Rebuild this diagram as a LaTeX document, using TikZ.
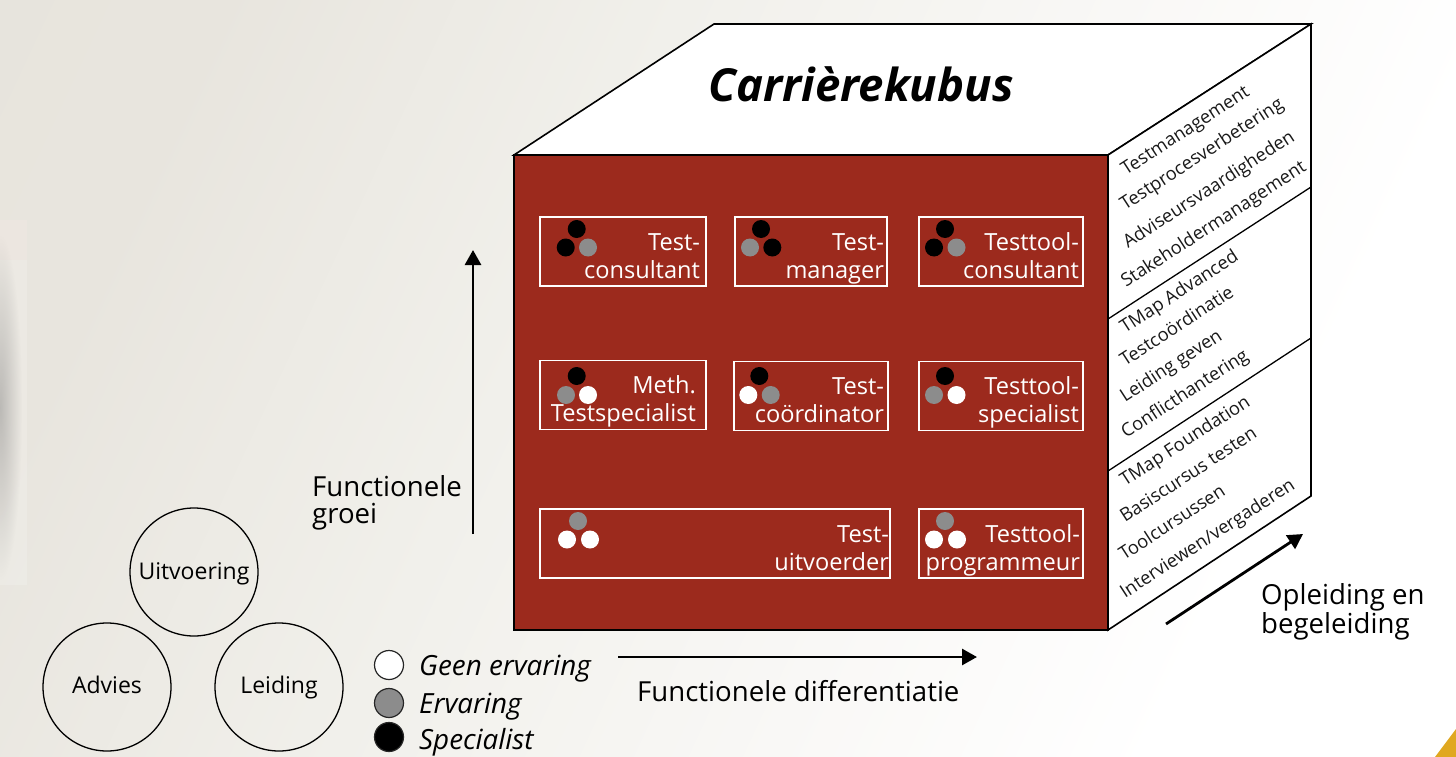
\documentclass[tikz,border=0pt]{standalone}
\usepackage{fontspec}
\setmainfont{Open Sans}
\usetikzlibrary{arrows.meta,fadings}
\definecolor{cubered}{HTML}{9C2A1D}
\definecolor{midgray}{HTML}{8C8C8C}
\definecolor{gold}{HTML}{E0A820}
\pgfdeclarehorizontalshading{bgsoft}{100bp}{
  color(0bp)=(rgb,255:red,230;green,227;blue,219);
  color(25bp)=(rgb,255:red,232;green,229;blue,222);
  color(42bp)=(rgb,255:red,241;green,240;blue,235);
  color(58bp)=(rgb,255:red,249;green,248;blue,246);
  color(72bp)=(white);
  color(100bp)=(white)}
\tikzfading[name=softpanel,inner color=transparent!0,middle color=transparent!15,outer color=transparent!100]
\newcommand{\rolelines}[2]{\rule{0pt}{31pt}#1\\#2\rule[-6pt]{0pt}{1pt}}
\newcommand{\circlabel}[2]{\rule[-4pt]{0pt}{#1pt}#2}
\tikzset{
  face/.style={draw=black,line width=1.6pt,fill=white,line join=miter},
  sepline/.style={draw=black,line width=1.3pt},
  rolebox/.style={draw=white,line width=1.3pt,text=white,align=right,inner ysep=0pt,
    minimum height=69pt,font=\fontsize{23.6}{28}\selectfont,anchor=center},
  dotk/.style={circle,fill=black,minimum size=18pt,inner sep=0pt},
  dotg/.style={circle,fill=midgray,minimum size=18pt,inner sep=0pt},
  dotw/.style={circle,fill=white,minimum size=18pt,inner sep=0pt},
  sidelabel/.style={rotate=33,anchor=base west,inner sep=0pt,font=\fontsize{18.3}{20}\selectfont,text=black!90},
  bigarrow/.style={line width=2.8pt,-{Triangle[length=15pt,width=16pt]}},
  axislabel/.style={font=\fontsize{27.6}{27.5}\selectfont,align=left,text=black,inner sep=0pt},
  bigcircle/.style={circle,draw=black,line width=1.3pt,minimum size=128pt,inner sep=0pt,font=\fontsize{23}{24}\selectfont},
  legendcircle/.style={circle,draw=black!85,line width=1.2pt,minimum size=29pt,inner sep=0pt},
  legendlabel/.style={anchor=base west,inner sep=0pt,font=\fontsize{27.8}{28}\selectfont\itshape},
}
\begin{document}
\begin{tikzpicture}[x=1pt,y=-1pt]
\useasboundingbox (0,0) rectangle (1456,757);
\shade[shading=bgsoft,shading angle=-25] (0,0) rectangle (1456,757);
% faint side panel
\fill[white,opacity=0.18] (0,220) rectangle (27,585);
\fill[red!30,opacity=0.05] (0,220) rectangle (27,260);
\begin{scope}
\clip (0,220) rectangle (27,585);
\fill[black!55,opacity=0.4,path fading=softpanel] (-22,235) rectangle (22,580);
\end{scope}
% corner
\fill[gold] (1435,757) -- (1456,729) -- (1456,757) -- cycle;

% cube
\coordinate (ftl) at (514,155);
\coordinate (ftr) at (1108,155);
\coordinate (fbr) at (1108,630);
\coordinate (btl) at (714,24);
\coordinate (btr) at (1311,24);
\coordinate (bbr) at (1311,496);
\path[face] (ftl) -- (btl) -- (btr) -- (ftr) -- cycle;
\path[face] (ftr) -- (btr) -- (bbr) -- (fbr) -- cycle;
\path[draw=black,line width=1.6pt,fill=cubered] (ftl) rectangle (fbr);
\coordinate (s1a) at (1108,319);
\coordinate (s1b) at (1311,187);
\coordinate (s2a) at (1108,471);
\coordinate (s2b) at (1311,338);
\draw[sepline] (s1a) -- (s1b);
\draw[sepline] (s2a) -- (s2b);

\node[anchor=center,inner sep=0pt,font=\fontsize{45.5}{48}\selectfont\bfseries\itshape] (title) at (861,84) {Carrièrekubus};

% role boxes
\node[rolebox,inner xsep=6pt,minimum width=166pt,text width=154pt] (b1) at (623,251.5) {\rolelines{Test-}{consultant}};
\node[rolebox,inner xsep=3pt,minimum width=152pt,text width=146pt] (b2) at (811,251.5) {\rolelines{Test-}{manager}};
\node[rolebox,inner xsep=4pt,minimum width=164pt,text width=156pt] (b3) at (1001,251.5) {\rolelines{Testtool-}{consultant}};
\node[rolebox,inner xsep=10pt,minimum width=166pt,text width=146pt] (b4) at (623,395) {\rolelines{Meth.}{Testspecialist}};
\node[rolebox,inner xsep=4pt,minimum width=154pt,text width=146pt] (b5) at (811,396) {\rolelines{Test-}{coördinator}};
\node[rolebox,inner xsep=4pt,minimum width=164pt,text width=156pt] (b6) at (1001,396) {\rolelines{Testtool-}{specialist}};
\node[rolebox,inner xsep=1pt,minimum width=350pt,text width=348pt] (b7) at (715,543.5) {\rolelines{Test-}{uitvoerder}};
\node[rolebox,inner xsep=3pt,minimum width=164pt,text width=158pt] (b8) at (1001,543.5) {\rolelines{Testtool-}{programmeur}};

% dots
\node[dotk] (d1a) at (576.7,229) {};
\node[dotk] (d1b) at (565.7,247.5) {};
\node[dotg] (d1c) at (588,247.5) {};
\node[dotk] (d2a) at (761,229) {};
\node[dotg] (d2b) at (750,247.5) {};
\node[dotk] (d2c) at (772.3,247.5) {};
\node[dotk] (d3a) at (945,229) {};
\node[dotk] (d3b) at (934,247.5) {};
\node[dotg] (d3c) at (956.5,247.5) {};
\node[dotk] (d4a) at (576.7,376) {};
\node[dotg] (d4b) at (566,395) {};
\node[dotw] (d4c) at (588,395) {};
\node[dotk] (d5a) at (759.3,376) {};
\node[dotw] (d5b) at (748.3,395) {};
\node[dotg] (d5c) at (770.7,395) {};
\node[dotk] (d6a) at (945,376) {};
\node[dotg] (d6b) at (934,395) {};
\node[dotw] (d6c) at (956.5,395) {};
\node[dotg] (d7a) at (578,521) {};
\node[dotw] (d7b) at (567,539.5) {};
\node[dotw] (d7c) at (590,539.5) {};
\node[dotg] (d8a) at (945,521) {};
\node[dotw] (d8b) at (934,539.5) {};
\node[dotw] (d8c) at (957,539.5) {};

% side labels
\node[sidelabel] (t1) at (1126,176) {Testmanagement};
\node[sidelabel] (t2) at (1125,211) {Testprocesverbetering};
\node[sidelabel] (t3) at (1128,249) {Adviseursvaardigheden};
\node[sidelabel] (t4) at (1126,288) {Stakeholdermanagement};
\node[sidelabel] (t5) at (1125,334) {TMap Advanced};
\node[sidelabel] (t6) at (1125,367) {Testcoördinatie};
\node[sidelabel] (t7) at (1125,403) {Leiding geven};
\node[sidelabel] (t8) at (1126,439) {Conflicthantering};
\node[sidelabel] (t9) at (1125,487) {TMap Foundation};
\node[sidelabel] (t10) at (1125,523) {Basiscursus testen};
\node[sidelabel] (t11) at (1124,561) {Toolcursussen};
\node[sidelabel] (t12) at (1125,599) {Interviewen/vergaderen};

% arrows
\coordinate (av0) at (473,534);
\coordinate (av1) at (473,250);
\coordinate (ah0) at (618,657);
\coordinate (ah1) at (977,657);
\coordinate (ad0) at (1166,624);
\coordinate (ad1) at (1303,534);
\draw[bigarrow] (av0) -- (av1);
\draw[bigarrow] (ah0) -- (ah1);
\draw[bigarrow] (ad0) -- (ad1);
\node[axislabel,anchor=west] (lv) at (312,503) {Functionele\\groei};
\node[axislabel,anchor=base west] (lh) at (637,701) {Functionele differentiatie};
\node[axislabel,anchor=west] (ld) at (1261,612) {Opleiding en\\begeleiding};

% big circles
\node[bigcircle] (cu) at (194,572) {\circlabel{24}{Uitvoering}};
\node[bigcircle] (ca) at (107,687) {\circlabel{18}{Advies}};
\node[bigcircle] (cl) at (279,687) {\circlabel{22}{Leiding}};

% legend
\node[legendcircle,fill=white] (lg1) at (389,665) {};
\node[legendcircle,fill=midgray] (lg2) at (389,703) {};
\node[legendcircle,fill=black] (lg3) at (389,737) {};
\node[legendlabel] (lt1) at (419,675) {Geen ervaring};
\node[legendlabel] (lt2) at (419,713) {Ervaring};
\node[legendlabel] (lt3) at (419,749) {Specialist};
\end{tikzpicture}
\end{document}
